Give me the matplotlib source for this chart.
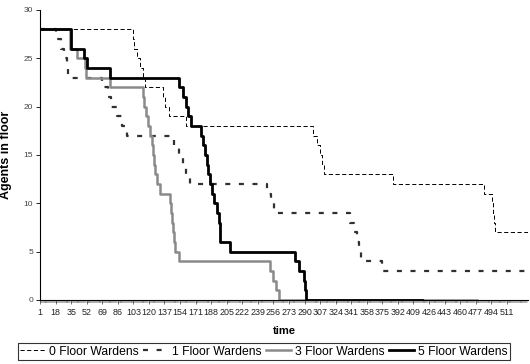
#-*- coding: utf-8 -*-
import matplotlib
matplotlib.use("Agg")
import matplotlib.pyplot as plt
import numpy as np

# change points (time, agents left)
t0 = [1, 103, 104, 107, 110, 114, 116, 135, 138, 142, 160, 299, 304, 307, 309, 311, 387, 486, 495, 496, 497, 498, 534]
v0 = [28, 27, 26, 25, 24, 23, 22, 21, 20, 19, 18, 17, 16, 15, 14, 13, 12, 11, 10, 9, 8, 7, 7]

t1 = [1, 18, 24, 27, 30, 32, 69, 75, 79, 85, 91, 96, 147, 153, 157, 160, 165, 249, 253, 257, 340, 344, 347, 350, 352, 375, 534]
v1 = [28, 27, 26, 25, 24, 23, 22, 21, 20, 19, 18, 17, 16, 15, 14, 13, 12, 11, 10, 9, 8, 7, 6, 5, 4, 3, 3]

t3 = [1, 34, 41, 50, 51, 77, 113, 115, 117, 119, 121, 123, 124, 125, 127, 129, 132, 143, 144, 145, 146, 147, 148, 153, 252, 256, 259, 262, 478]
v3 = [28, 26, 25, 24, 23, 22, 21, 20, 19, 18, 17, 16, 15, 14, 13, 12, 11, 10, 9, 8, 7, 6, 5, 4, 3, 2, 1, 0, 0]

t5 = [1, 35, 49, 52, 77, 153, 157, 161, 163, 166, 177, 179, 181, 183, 185, 187, 189, 191, 194, 197, 198, 209, 280, 284, 289, 291, 292, 418]
v5 = [28, 26, 25, 24, 23, 22, 21, 20, 19, 18, 17, 16, 15, 14, 13, 12, 11, 10, 9, 8, 6, 5, 4, 3, 2, 1, 0, 0]

NAMES = ["0 Floor Wardens", "1 Floor Wardens", "3 Floor Wardens", "5 Floor Wardens"]
XTICKS = list(range(1, 512, 17))
YTICKS = [0, 5, 10, 15, 20, 25, 30]

plt.rcParams["font.family"] = ["Liberation Sans", "DejaVu Sans"]
plt.rcParams["lines.scale_dashes"] = False


def main():
    fig = plt.figure(figsize=(5.3, 3.64), dpi=100)
    ax = fig.add_axes([0.0755, 0.176, 0.9205, 0.797])

    ax.step(t0, v0, where="post", color="black", lw=0.7, dashes=(3.0, 1.8), label=NAMES[0])
    ax.step(t1, v1, where="post", color="#303030", lw=1.6, dashes=(3.6, 6.2), label=NAMES[1])
    ax.step(t3, v3, where="post", color="#8a8a8a", lw=1.8, label=NAMES[2])
    ax.step(t5, v5, where="post", color="black", lw=2.0, label=NAMES[3])

    ax.set_xlim(1, 534)
    ax.set_ylim(0, 30)
    ax.set_xticks(XTICKS)
    ax.set_xticklabels([str(x) for x in XTICKS], fontsize=6.4, color="#222222",
                       family=["Liberation Sans Narrow", "Liberation Sans"])
    ax.set_xticks(np.arange(1, 534), minor=True)
    ax.set_yticks(YTICKS)
    ax.set_yticklabels([str(y) for y in YTICKS], fontsize=6, color="#444444")
    ax.tick_params(axis="x", which="major", direction="out", length=3, width=0.4, pad=3)
    ax.tick_params(axis="x", which="minor", direction="out", length=2.5, width=0.3, color="#333333")
    ax.tick_params(axis="y", direction="out", length=3, width=0.6, pad=2)

    for s in ["top", "right"]:
        ax.spines[s].set_visible(False)
    ax.spines["left"].set_linewidth(0.8)
    ax.spines["bottom"].set_linewidth(0.8)

    ax.set_xlabel("time", fontsize=8, fontweight="bold", labelpad=6)
    ax.set_ylabel("Agents in floor", fontsize=9, fontweight="bold", labelpad=8)

    leg = fig.legend(loc="center", bbox_to_anchor=(0.498, 0.034), ncol=4, fontsize=8.7,
                     frameon=True, fancybox=False, edgecolor="black", handlelength=2.1,
                     handletextpad=0.3, columnspacing=0.35, borderpad=0.2, borderaxespad=0)
    leg.get_frame().set_linewidth(0.8)

    plt.savefig("out.png", dpi=100)
    plt.close()


if __name__ == '__main__':
    main()
